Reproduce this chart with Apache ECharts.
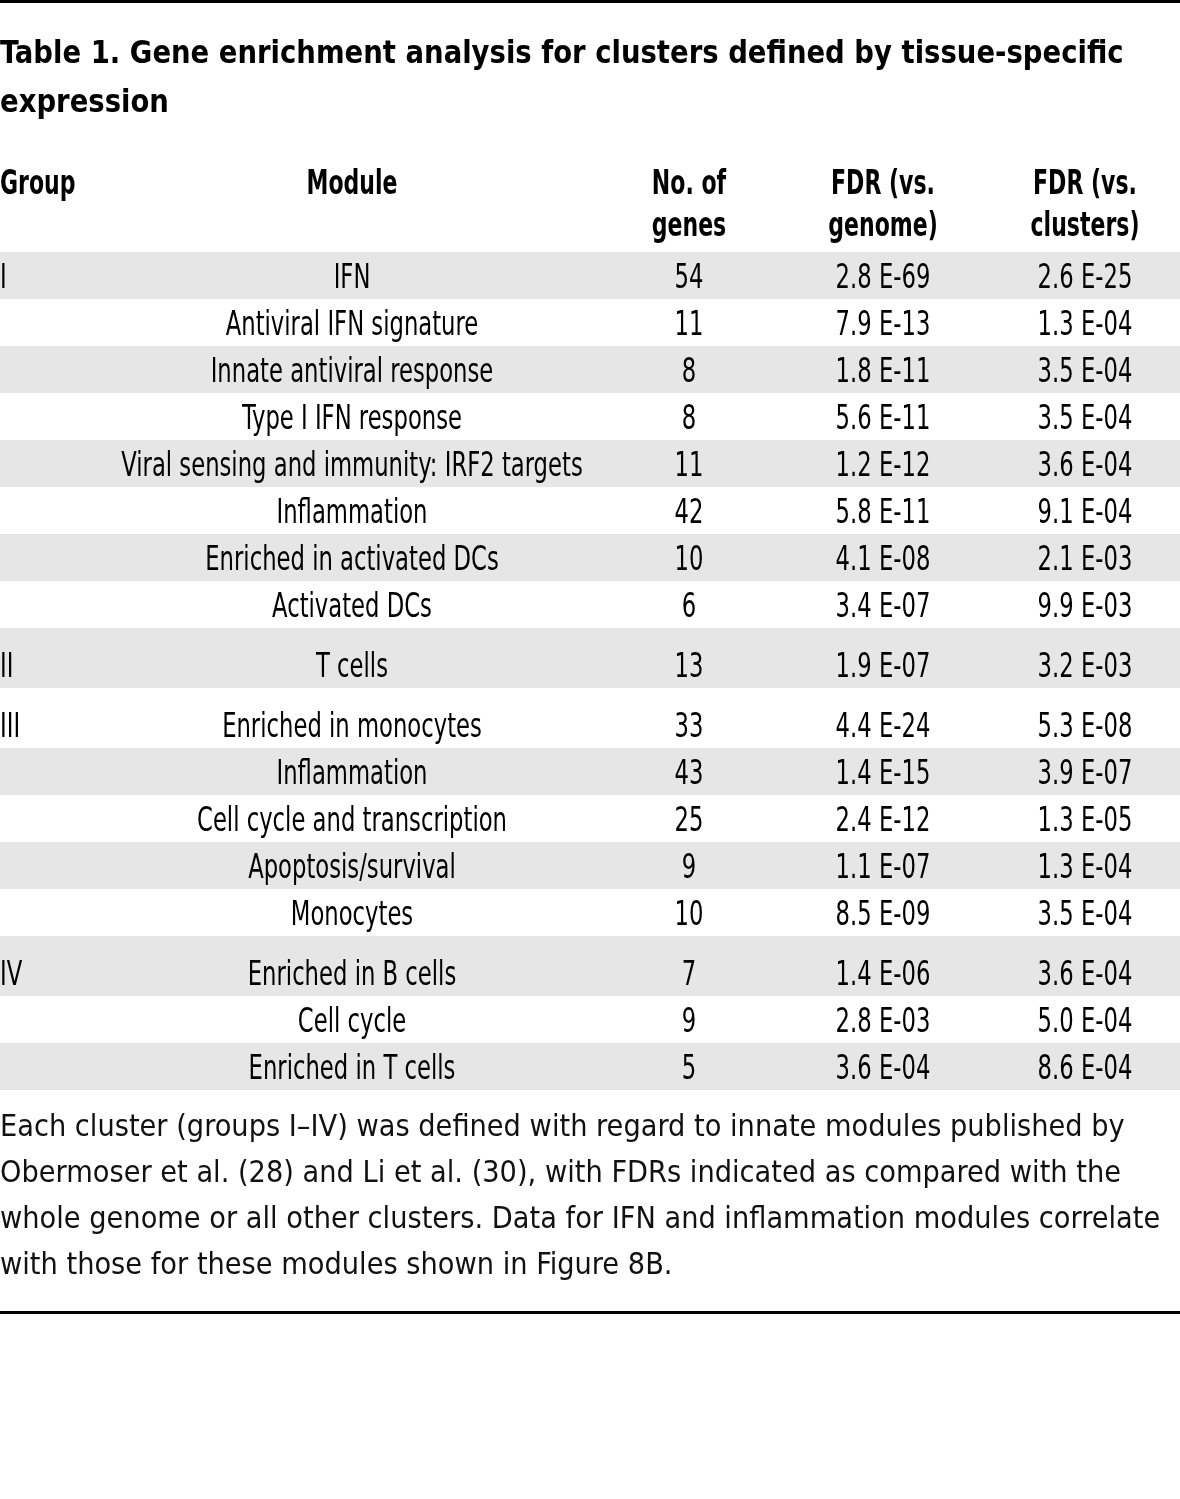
<!DOCTYPE html>
<html>
<head>
<meta charset="utf-8">
<script src="https://cdn.jsdelivr.net/npm/echarts@6/dist/echarts.min.js"></script>
<style>
html,body{margin:0;padding:0;background:#fff;}
#chart{width:1180px;height:1499px;}
</style>
</head>
<body>
<div id="chart"></div>
<script>
// ---- data ----
const titleLines = ['Table 1. Gene enrichment analysis for clusters defined by tissue-specific', 'expression'];
const headers = ['Group', 'Module', 'No. of\ngenes', 'FDR (vs.\ngenome)', 'FDR (vs.\nclusters)'];
const groups = ['I', '', '', '', '', '', '', '', 'II', 'III', '', '', '', '', 'IV', '', ''];
const modules = ['IFN', 'Antiviral IFN signature', 'Innate antiviral response', 'Type I IFN response',
  'Viral sensing and immunity: IRF2 targets', 'Inflammation', 'Enriched in activated DCs', 'Activated DCs',
  'T cells', 'Enriched in monocytes', 'Inflammation', 'Cell cycle and transcription', 'Apoptosis/survival',
  'Monocytes', 'Enriched in B cells', 'Cell cycle', 'Enriched in T cells'];
const genes = [54, 11, 8, 8, 11, 42, 10, 6, 13, 33, 43, 25, 9, 10, 7, 9, 5];
const fdrGenome = ['2.8 E-69', '7.9 E-13', '1.8 E-11', '5.6 E-11', '1.2 E-12', '5.8 E-11', '4.1 E-08', '3.4 E-07',
  '1.9 E-07', '4.4 E-24', '1.4 E-15', '2.4 E-12', '1.1 E-07', '8.5 E-09', '1.4 E-06', '2.8 E-03', '3.6 E-04'];
const fdrClusters = ['2.6 E-25', '1.3 E-04', '3.5 E-04', '3.5 E-04', '3.6 E-04', '9.1 E-04', '2.1 E-03', '9.9 E-03',
  '3.2 E-03', '5.3 E-08', '3.9 E-07', '1.3 E-05', '1.3 E-04', '3.5 E-04', '3.6 E-04', '5.0 E-04', '8.6 E-04'];
const footnoteLines = [
  'Each cluster (groups I\u2013IV) was defined with regard to innate modules published by',
  'Obermoser et al. (28) and Li et al. (30), with FDRs indicated as compared with the',
  'whole genome or all other clusters. Data for IFN and inflammation modules correlate',
  'with those for these modules shown in Figure 8B.'
];

// ---- layout / style ----
const FONT = "'DejaVu Sans Condensed', 'Liberation Sans Narrow', sans-serif";
const ROW = 47, GAP = 13;
const W = 1180;
const colX = [0, 352, 689, 883, 1085];
const GRID_TOP = 252;
const BODY_SCALE = 0.765, HEAD_SCALE = 0.72, TITLE_SCALE = 0.955, NOTE_SCALE = 1.01;

// row layout units derived from group structure
const rows = [];
let acc = 0;
for (let i = 0; i < modules.length; i++) {
  const gap = (i > 0 && groups[i] !== '') ? GAP : 0;
  const top = acc;
  const bottom = acc + gap + ROW;
  rows.push([i, top, bottom, top + gap + ROW / 2 + 3.5]);
  acc = bottom;
}
const TOTAL = acc;

const chart = echarts.init(document.getElementById('chart'), null, {renderer: 'canvas'});

const graphics = [];
graphics.push({type: 'rect', shape: {x: 0, y: 0, width: W, height: 3}, style: {fill: '#000'}});
titleLines.forEach((t, i) => {
  graphics.push({type: 'text', x: 0, y: 54.5 + i * 49, scaleX: TITLE_SCALE,
    style: {text: t, font: 'bold 32px ' + FONT, fill: '#000', textVerticalAlign: 'middle', textAlign: 'left'}});
});
headers.forEach((h, i) => {
  h.split('\n').forEach((l, j) => {
    graphics.push({type: 'text', x: colX[i], y: 185 + j * 42, scaleX: HEAD_SCALE,
      style: {text: l, font: 'bold 34px ' + FONT, fill: '#000', textVerticalAlign: 'middle',
        textAlign: i === 0 ? 'left' : 'center'}});
  });
});
footnoteLines.forEach((t, i) => {
  graphics.push({type: 'text', x: 0, y: 1128 + i * 46, scaleX: NOTE_SCALE,
    style: {text: t, font: '30px ' + FONT, fill: '#111', textVerticalAlign: 'middle', textAlign: 'left'}});
});
graphics.push({type: 'rect', shape: {x: 0, y: 1311, width: W, height: 3}, style: {fill: '#000'}});

const option = {
  animation: false,
  backgroundColor: '#fff',
  grid: {left: 0, right: 0, top: GRID_TOP, height: TOTAL},
  xAxis: {type: 'value', min: 0, max: W, show: false},
  yAxis: {type: 'value', min: 0, max: TOTAL, inverse: true, show: false},
  graphic: graphics,
  series: [{
    type: 'custom',
    data: rows,
    renderItem: function (params, api) {
      const i = api.value(0);
      const p0 = api.coord([0, api.value(1)]);
      const p1 = api.coord([W, api.value(2)]);
      const cy = api.coord([0, api.value(3)])[1];
      const children = [];
      if (i % 2 === 0) {
        children.push({type: 'rect', shape: {x: p0[0], y: p0[1], width: p1[0] - p0[0], height: p1[1] - p0[1]},
          style: {fill: '#e6e6e6'}});
      }
      const vals = [groups[i], modules[i], String(genes[i]), fdrGenome[i], fdrClusters[i]];
      vals.forEach((v, c) => {
        const x = api.coord([colX[c], 0])[0];
        children.push({type: 'text', x: x, y: cy, scaleX: BODY_SCALE,
          style: {text: v, font: '33px ' + FONT, fill: '#000', textVerticalAlign: 'middle',
            textAlign: c === 0 ? 'left' : 'center'}});
      });
      return {type: 'group', children: children};
    }
  }]
};
chart.setOption(option);
</script>
</body>
</html>
